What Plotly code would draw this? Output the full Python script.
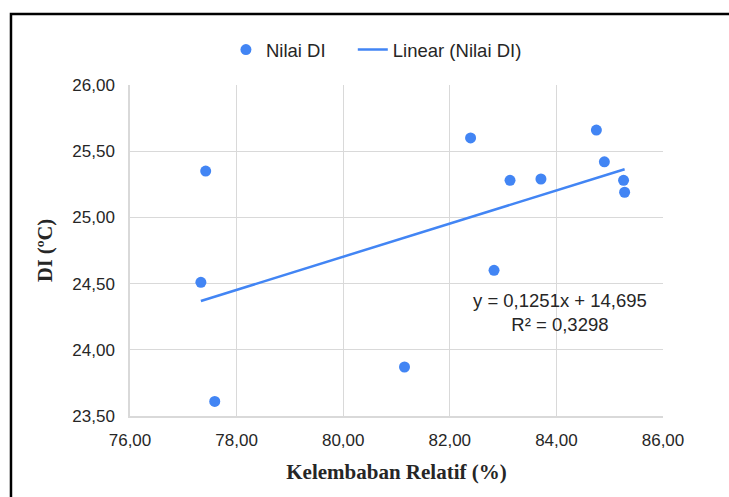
import plotly.graph_objects as go

# Data
kelembaban = [77.33, 77.42, 77.59, 81.15, 82.39, 82.83, 83.13, 83.71, 84.75, 84.90, 85.26, 85.28]
nilai_di = [24.51, 25.35, 23.61, 23.87, 25.60, 24.60, 25.28, 25.29, 25.66, 25.42, 25.28, 25.19]

# Linear trend from the chart's equation
slope = 0.1251
intercept = 14.695
r_squared = 0.3298

x_ticks = [76, 78, 80, 82, 84, 86]
x_tick_labels = ["76,00", "78,00", "80,00", "82,00", "84,00", "86,00"]
y_ticks = [23.5, 24.0, 24.5, 25.0, 25.5, 26.0]
y_tick_labels = ["23,50", "24,00", "24,50", "25,00", "25,50", "26,00"]

blue = "#4285F4"
grid = "#D9D9D9"
sans = "Liberation Sans, Arial, sans-serif"
serif = "Liberation Serif, Times New Roman, serif"

trend_x = [min(kelembaban), max(kelembaban)]
trend_y = [slope * v + intercept for v in trend_x]

fig = go.Figure()
fig.add_trace(go.Scatter(
    x=kelembaban, y=nilai_di, mode="markers", name="Nilai DI",
    marker=dict(color=blue, size=11), legend="legend",
))
fig.add_trace(go.Scatter(
    x=trend_x, y=trend_y, mode="lines", name="Linear (Nilai DI)",
    line=dict(color=blue, width=2.5), legend="legend2",
))

eq_text = "y = " + f"{slope:.4f}".replace(".", ",") + "x + " + f"{intercept:.3f}".replace(".", ",") \
    + "<br>R² = " + f"{r_squared:.4f}".replace(".", ",")

fig.add_annotation(
    text=eq_text, xref="paper", yref="paper", x=0.807, y=0.3127,
    xanchor="center", yanchor="middle", showarrow=False, align="center",
    font=dict(family=sans, size=18.5, color="#262626"),
)

legend_style = dict(
    orientation="h", xanchor="left", y=1.1057, yanchor="middle",
    font=dict(family=sans, size=18.5, color="#262626"),
    bgcolor="rgba(0,0,0,0)",
)

fig.update_layout(
    width=729, height=497,
    margin=dict(l=130, r=66, t=85, b=81),
    paper_bgcolor="white", plot_bgcolor="white",
    font=dict(family=sans, color="#262626"),
    showlegend=True,
    legend=dict(x=0.18, **legend_style),
    legend2=dict(x=0.418, **legend_style),
    xaxis=dict(
        range=[76, 86], tickvals=x_ticks, ticktext=x_tick_labels,
        showgrid=True, gridcolor=grid, gridwidth=1.3,
        showline=True, linecolor=grid, linewidth=1.5,
        zeroline=False, ticks="outside", ticklen=8, tickcolor="rgba(0,0,0,0)",
        tickfont=dict(family=sans, size=17, color="#262626"),
        title=dict(text="Kelembaban Relatif (%)", standoff=15,
                   font=dict(family=serif, size=21, color="#262626", weight="bold")),
    ),
    yaxis=dict(
        range=[23.5, 26.0], tickvals=y_ticks, ticktext=y_tick_labels,
        showgrid=True, gridcolor=grid, gridwidth=1.3,
        showline=True, linecolor=grid, linewidth=1.5,
        zeroline=False, ticks="outside", ticklen=10, tickcolor="rgba(0,0,0,0)",
        tickfont=dict(family=sans, size=17, color="#262626"),
        title=dict(text="DI (ºC)", standoff=14,
                   font=dict(family=serif, size=20.5, color="#262626", weight="bold")),
    ),
    shapes=[dict(
        type="rect", xref="paper", yref="paper",
        x0=-0.2233, x1=1.3, y0=-0.35, y1=1.2145,
        line=dict(color="black", width=2.5), fillcolor="rgba(0,0,0,0)", layer="above",
    )],
)

fig.write_html("out.html")
